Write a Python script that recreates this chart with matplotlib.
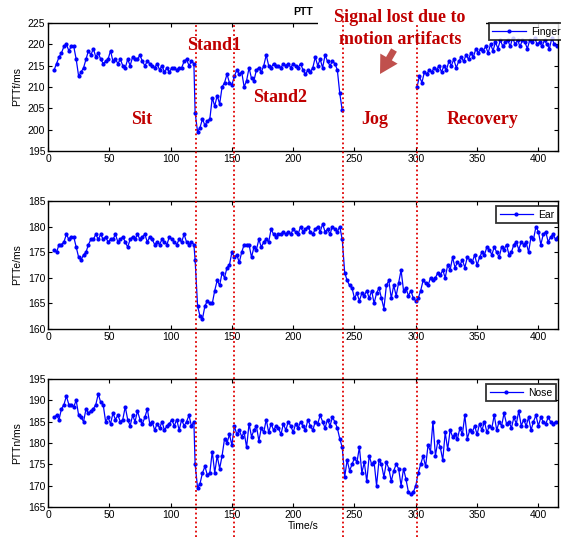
import numpy as np
import matplotlib.pyplot as plt
import matplotlib.transforms as mtransforms
from matplotlib.lines import Line2D
from matplotlib.patches import Rectangle, FancyArrowPatch

plt.rcParams['font.family'] = ['Liberation Sans', 'DejaVu Sans']

# ---- data (PTT in ms, sampled every 2 s) ----
finger_sit = [214, 215.5, 217, 218, 219.5, 220, 218.5, 219.5, 219.5, 216.5, 212.5, 213.5, 214.5, 216.5,
              218.5, 217.5, 219, 217, 218, 216.5, 215.5, 216, 216.5, 218.5, 216, 216.5, 215.5, 216.5,
              215, 214.5, 216.5, 215, 217, 216.5, 216.5, 217.5, 216, 215, 216, 215.5, 215, 214.5,
              215.5, 214, 215, 213.5, 214.5, 213.5, 214.5, 214.5, 214, 214.5, 214.5, 216, 216.5, 215,
              216, 215.5]
finger_stand = [204, 199.5, 200.5, 202.5, 201, 202, 202.5, 207.5, 205.5, 208, 206, 210, 211, 213, 211,
                210.5, 212.5, 214, 213, 213.5, 210, 211.5, 214.5, 212, 211.5, 214, 214.5, 213.5, 215,
                217.5, 215, 214.5, 215.5, 215, 215, 214.5, 215.5, 215, 215.5, 214.5, 215.5, 215, 214.5,
                215.5, 214, 213, 214, 213.5, 214.5, 217, 215, 216.5, 214.5, 217.5, 216, 215, 216, 215.5,
                214, 208.5, 204.5]
finger_rec = [210, 212.5, 211, 213.5, 213, 214, 213.5, 214.5, 214, 215, 213.5, 215, 214, 216, 215, 216.5,
              214.5, 216, 217, 216, 217.5, 216.5, 218, 217, 219, 218, 219, 218.5, 219.5, 218, 220, 218.5,
              220.5, 219, 221, 219.5, 220.5, 221, 219.5, 221.5, 220, 221, 219.5, 221, 220.5, 219, 221,
              220.5, 221.5, 220, 220.5, 219.5, 221, 220, 219, 221.5, 220, 219.5]

ear_sit = [175.5, 175, 176.5, 176.5, 177, 178.5, 177.5, 178, 178, 176, 174, 173.5, 174.5, 175, 176.5,
           177.5, 177.5, 178.5, 177.5, 178.5, 177.5, 178, 177, 177.5, 177.5, 178.5, 177, 177.5, 178, 177,
           176, 177.5, 178, 177.5, 178.5, 177.5, 178, 178.5, 177, 178, 177.5, 176.5, 177, 176.5, 177.5,
           177, 176.5, 178, 177.5, 177, 176.5, 177.5, 177, 178.5, 177, 176.5, 177, 176.5]
ear_stand = [173.5, 164.5, 162.5, 162, 164.5, 165.5, 165, 165, 167.5, 169.5, 168.5, 171, 170, 172, 172.5,
             175, 174, 174.5, 173, 175, 176.5, 176.5, 176.5, 174, 176, 175.5, 177.5, 176, 177, 177.5,
             177, 179.5, 178.5, 178, 178.5, 178.5, 179, 178.5, 179, 178.5, 179.5, 179, 178.5, 180, 179,
             179.5, 180, 179, 178.5, 179.5, 180, 179, 180.5, 179, 179.5, 178.5, 180, 179.5, 179, 180, 177.5]
ear_jog = [171, 169.5, 168.5, 168, 166, 167, 165.5, 167, 166.5, 167.5, 166, 167.5, 165, 167, 168, 166,
           164, 168.5, 169.5, 166, 168.5, 166.5, 169, 171.5, 167.5, 168, 166.5, 167.5, 166, 165.5]
ear_rec = [166, 167.5, 169.5, 169, 168.5, 170, 169.5, 170, 171, 170.5, 171.5, 170, 172.5, 171.5, 174, 172,
           173, 172.5, 173.5, 172, 174, 173.5, 173, 174.5, 172.5, 174, 175, 174.5, 176, 175.5, 174.5, 176,
           175, 174, 176, 175.5, 176.5, 174.5, 175, 176.5, 177, 175.5, 177, 176.5, 177, 175, 178, 177.5,
           180, 179, 176.5, 178.5, 179, 177, 178, 178.5, 177.5, 178]

nose_sit = [186, 186.5, 185.5, 188, 189, 191, 189, 189, 188.5, 190, 186.5, 186, 185, 188, 187, 187.5, 188,
            189, 191.5, 189.5, 189, 185, 186, 184.5, 187, 185.5, 186.5, 185, 185.5, 188.5, 185.5, 184,
            186.5, 185, 187.5, 185.5, 184.5, 186, 188, 184.5, 185, 183, 184.5, 183.5, 185, 183, 184,
            184.5, 185.5, 184, 185.5, 183, 185.5, 184, 185, 186.5, 184, 185]
nose_stand = [175, 169.5, 170.5, 173, 174.5, 172.5, 173, 178, 173, 177, 174, 177, 181, 180, 182, 179.5, 184,
              182, 183, 181.5, 182.5, 179, 184.5, 181.5, 183, 184, 180.5, 183.5, 182.5, 185.5, 182.5,
              184.5, 183, 184, 183.5, 182, 184.5, 183, 185, 184, 182.5, 184.5, 183.5, 185, 184, 183,
              185.5, 184, 183, 185, 184.5, 186.5, 185, 183.5, 185.5, 184, 186, 185, 183.5, 181, 179]
nose_jog = [172, 176, 173.5, 175, 176.5, 175.5, 179, 173, 175.5, 171, 177, 175, 175.5, 170, 176, 175, 172,
            175.5, 174, 171, 173.5, 175, 174, 170, 174, 171.5, 168.5, 168, 168.5, 170]
nose_rec = [173, 175, 177, 174.5, 179.5, 178, 185, 177, 180.5, 179, 176, 182.5, 178.5, 183, 181.5, 182,
            181, 183.5, 182, 186.5, 181, 183, 182.5, 184, 182, 184.5, 183, 185, 182.5, 184, 183.5, 186.5,
            183, 185, 184, 187, 184.5, 185, 183.5, 186, 184.5, 187.5, 184, 185.5, 184, 186, 183, 185,
            186.5, 184, 186, 185, 184.5, 186, 185, 184.5, 185]

# segment start times (s)
t_sit, t_stand, t_jog, t_rec = 5, 120, 242, 302
phase_lines = [121, 152, 241, 301]


def times(start, vals):
    return start + 2 * np.arange(len(vals))


def series(sit, stand, jog, rec):
    t = np.concatenate([times(t_sit, sit), times(t_stand, stand), times(t_jog, jog), times(t_rec, rec)])
    y = np.concatenate([sit, stand, jog, rec])
    return t, y


t_f = np.concatenate([times(t_sit, finger_sit), times(t_stand, finger_stand), [270], times(t_rec - 1, finger_rec)])
y_f = np.concatenate([finger_sit, finger_stand, [np.nan], finger_rec])
t_e, y_e = series(ear_sit, ear_stand, ear_jog, ear_rec)
t_n, y_n = series(nose_sit, nose_stand, nose_jog, nose_rec)

W, H = 561, 537
fig = plt.figure(figsize=(W / 100, H / 100), dpi=100)

left, width = 48 / W, 510 / W
ax1 = fig.add_axes([left, 1 - 151 / H, width, 128 / H])
ax2 = fig.add_axes([left, 1 - 329 / H, width, 128 / H])
ax3 = fig.add_axes([left, 1 - 507 / H, width, 128 / H])

panels = [
    (ax1, t_f, y_f, 'Finger', 'PTTf/ms', (195, 225), (1.012, 1.0)),
    (ax2, t_e, y_e, 'Ear', 'PTTe/ms', (160, 185), (1.0, 0.96)),
    (ax3, t_n, y_n, 'Nose', 'PTTn/ms', (165, 195), (0.996, 0.96)),
]
for ax, t, y, name, ylab, ylim, anchor in panels:
    ax.plot(t, y, '-', color='#0000ff', lw=0.9, marker='.', ms=4, label=name)
    ax.set_xlim(0, 416)
    ax.set_ylim(*ylim)
    ax.set_xticks(np.arange(0, 401, 50))
    ax.set_yticks(np.arange(ylim[0], ylim[1] + 1, 5))
    ax.tick_params(direction='in', top=True, right=True, length=3, labelsize=7.5, pad=2)
    ax.set_ylabel(ylab, fontsize=7.5, labelpad=4)
    for s in ax.spines.values():
        s.set_linewidth(1.0)
    leg = ax.legend(loc='upper right', bbox_to_anchor=anchor, borderaxespad=0, fontsize=7.5,
                    fancybox=False, numpoints=1, handlelength=3.2, borderpad=0.35,
                    handletextpad=0.5)
    leg.get_frame().set_edgecolor('black')
    leg.get_frame().set_linewidth(1.3)

ax1.set_title('PTT', fontsize=7.5, fontweight='bold', pad=6)
ax3.set_xlabel('Time/s', fontsize=7.5, labelpad=1)

# white strip where the annotation hides the top frame
fig.add_artist(Rectangle((318 / W, 1 - 29 / H), (486 - 318) / W, 11 / H, transform=fig.transFigure,
                         facecolor='white', edgecolor='none', zorder=3))

# phase separators running through all panels
trans = mtransforms.blended_transform_factory(ax1.transData, fig.transFigure)
for x in phase_lines:
    top = 1 - (13 if x == 241 else 23) / H
    fig.add_artist(Line2D([x, x], [0, top], transform=trans, color='#e00000',
                          linestyle=(0, (1, 1.5)), lw=1.3, zorder=5))

red = '#c00000'
lab = dict(color=red, fontsize=13, fontweight='bold', family='Liberation Serif',
           ha='center', va='center', zorder=6)
fig.text(142 / W, 1 - 120 / H, 'Sit', **lab)
fig.text(214 / W, 1 - 45 / H, 'Stand1', **lab)
fig.text(280 / W, 1 - 97 / H, 'Stand2', **lab)
fig.text(375 / W, 1 - 120 / H, 'Jog', **lab)
fig.text(483 / W, 1 - 120 / H, 'Recovery', **lab)
fig.text(400 / W, 1 - 17 / H, 'Signal lost due to', **lab)
fig.text(400 / W, 1 - 39 / H, 'motion artifacts', **lab)

arrow = FancyArrowPatch((394 / W, 1 - 50 / H), (380 / W, 1 - 74 / H), transform=fig.transFigure,
                        arrowstyle='simple,head_width=0.9,head_length=0.8,tail_width=0.3',
                        mutation_scale=16, shrinkA=0, shrinkB=0, color='#c0504d', lw=0, zorder=6)
fig.add_artist(arrow)

fig.savefig('out.png', dpi=100)
